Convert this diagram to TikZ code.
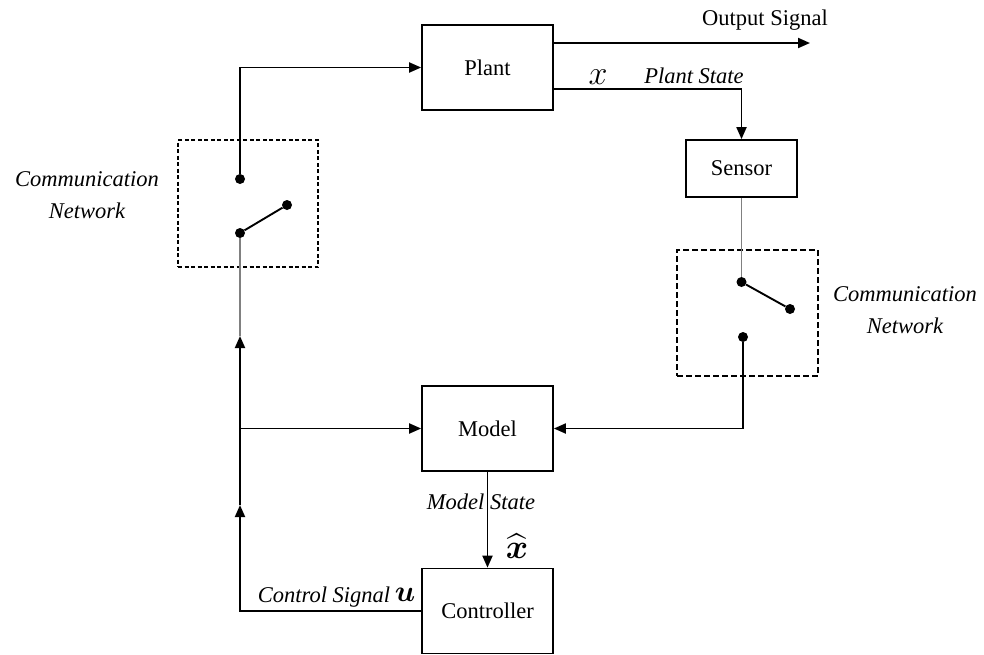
\RequirePackage{fix-cm}
\documentclass[tikz,border=0pt]{standalone}
\usepackage{amsmath, amssymb}
\usepackage{fontspec}
\setmainfont{Liberation Serif}
\newfontfamily\diagfont{Liberation Serif}
\usepackage{tikz}
\usetikzlibrary{arrows.meta}

\begin{document}
\begin{tikzpicture}[
  x=1pt, y=-1pt,
  font=\diagfont\fontsize{22.5}{28}\selectfont,
  block/.style={draw, line width=1.7pt, minimum width=131pt, minimum height=85pt,
                inner sep=0pt},
  netbox/.style={draw, line width=1.3pt, dash pattern=on 4pt off 2.5pt, inner sep=0pt},
  wire/.style={line width=1.9pt},
  flow/.style={line width=1.9pt, -{Triangle[length=12pt, width=10pt]}},
  contact/.style={circle, fill, inner sep=0pt, minimum size=10pt},
  tag/.style={font=\diagfont\fontsize{22.5}{32}\selectfont\itshape, inner sep=1pt},
  sym/.style={font=\fontsize{34}{38}\selectfont, inner sep=0pt},
]

\useasboundingbox (0, 0) rectangle (984, 654);

\node[block] (plant) at (487.5, 67.5) {Plant};
\node[block] (model) at (487.5, 428.5) {Model};
\node[block] (ctrl) at (487.5, 611) {Controller};
\node[block, minimum width=111pt, minimum height=57pt] (sensor) at (741.5, 168.5) {Sensor};

\node[netbox, minimum width=140pt, minimum height=127pt] (netL) at (248, 203.5) {};
\node[netbox, line width=2.2pt, dash pattern=on 6pt off 3pt,
      minimum width=141pt, minimum height=126pt] (netR) at (747.5, 313) {};

\node[contact] (swLtop) at (240, 179) {};
\node[contact] (swLbot) at (240, 233) {};
\node[contact] (swLarm) at (287, 205) {};
\node[contact] (swRtop) at (741.5, 282) {};
\node[contact] (swRarm) at (790, 309) {};
\node[contact] (swRbot) at (743, 337) {};

\coordinate (outEnd) at (810, 43);
\coordinate (jn) at (240, 428.5);
\coordinate (upA) at (240, 336);
\coordinate (upB) at (240, 505);
\coordinate (cEnd) at (240, 611);

\draw[flow] ([yshift=24.5pt]plant.east) -- (outEnd);
\draw[flow] ([yshift=-21.5pt]plant.east) -| (sensor);
\draw[wire, gray] (sensor) -- (swRtop);
\draw[wire] (swRtop) -- (swRarm);
\draw[flow] (swRbot) |- (model);
\draw[flow] (model) -- (ctrl);
\draw[flow] (ctrl) -- (cEnd) -- (upB);
\draw[wire] (upB) -- (jn);
\draw[flow] (jn) -- (model);
\draw[flow] (jn) -- (upA);
\draw[wire, gray] (upA) -- (swLbot);
\draw[wire] (swLbot) -- (swLarm);
\draw[flow] (swLtop) |- (plant);

\node (outLbl) at (765, 20) {Output Signal};
\node[sym] (xLbl) at (598, 77) {$x$};
\node[tag] (stateLbl) at (694, 76) {Plant State};
\node[tag] (mStateLbl) at (481, 502) {Model State};
\node[sym] (xhatLbl) at (517, 546) {$\widehat{\boldsymbol{x}}$};
\node[tag] (ctrlLbl) at (324, 597) {Control Signal};
\node[sym, font=\fontsize{30}{34}\selectfont] (uLbl) at (405, 595) {$\boldsymbol{u}$};
\node[tag, align=center] (netLLbl) at (87, 195) {Communication\\Network};
\node[tag, align=center] (netRLbl) at (905, 310) {Communication\\Network};

\end{tikzpicture}
\end{document}
